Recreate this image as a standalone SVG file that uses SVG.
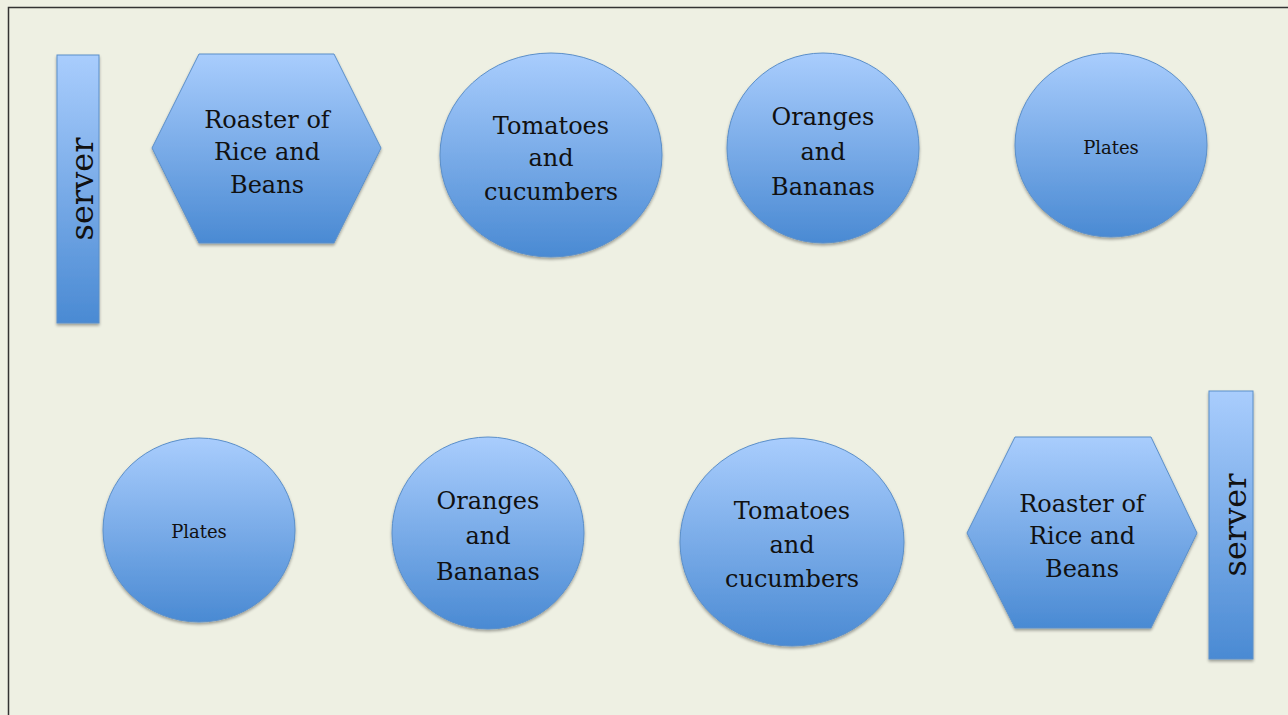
<svg xmlns="http://www.w3.org/2000/svg" width="1288" height="715" viewBox="0 0 1288 715">
<defs>
<linearGradient id="g" x1="0" y1="0" x2="0" y2="1">
<stop offset="0" stop-color="#a9cdfd"/>
<stop offset="1" stop-color="#4a8ad3"/>
</linearGradient>
<filter id="sh" x="-10%" y="-10%" width="120%" height="125%">
<feGaussianBlur in="SourceAlpha" stdDeviation="1.5"/>
<feOffset dx="0" dy="2" result="b"/>
<feComponentTransfer><feFuncA type="linear" slope="0.35"/></feComponentTransfer>
<feMerge><feMergeNode/><feMergeNode in="SourceGraphic"/></feMerge>
</filter>
</defs>
<style>
.s{fill:url(#g);stroke:#5b8fc9;stroke-width:1;filter:url(#sh)}
.t{font-family:"DejaVu Serif","Liberation Serif",serif;font-size:24px;fill:#111;text-anchor:middle}
.p{font-size:18px}
.v{font-size:32px}
</style>
<rect x="0" y="0" width="1288" height="715" fill="#eef0e3"/>
<path d="M8.5 715V7.5H1288" fill="none" stroke="#333" stroke-width="1.5"/>
<g id="connectors"/>
<g id="server1">
<rect class="s" x="57" y="55" width="42" height="268"/>
<text class="t v" transform="translate(93,189) rotate(-90)">server</text>
</g>
<g id="roaster1">
<polygon class="s" points="152,148 199,54 334,54 381,148 334,243 199,243"/>
<text class="t" x="267" y="128">Roaster of</text>
<text class="t" x="267" y="160">Rice and</text>
<text class="t" x="267" y="193">Beans</text>
</g>
<g id="tomatoes1">
<ellipse class="s" cx="551" cy="155" rx="111" ry="102"/>
<text class="t" x="551" y="134">Tomatoes</text>
<text class="t" x="551" y="166">and</text>
<text class="t" x="551" y="200">cucumbers</text>
</g>
<g id="oranges1">
<ellipse class="s" cx="823" cy="148" rx="96" ry="95"/>
<text class="t" x="823" y="125">Oranges</text>
<text class="t" x="823" y="160">and</text>
<text class="t" x="823" y="195">Bananas</text>
</g>
<g id="plates1">
<ellipse class="s" cx="1111" cy="145" rx="96" ry="92"/>
<text class="t p" x="1111" y="154">Plates</text>
</g>
<g id="plates2">
<ellipse class="s" cx="199" cy="530" rx="96" ry="92"/>
<text class="t p" x="199" y="538">Plates</text>
</g>
<g id="oranges2">
<ellipse class="s" cx="488" cy="533" rx="96" ry="96"/>
<text class="t" x="488" y="509">Oranges</text>
<text class="t" x="488" y="544">and</text>
<text class="t" x="488" y="580">Bananas</text>
</g>
<g id="tomatoes2">
<ellipse class="s" cx="792" cy="542" rx="112" ry="104"/>
<text class="t" x="792" y="519">Tomatoes</text>
<text class="t" x="792" y="553">and</text>
<text class="t" x="792" y="587">cucumbers</text>
</g>
<g id="roaster2">
<polygon class="s" points="967,533 1015,437 1151,437 1197,533 1151,628 1015,628"/>
<text class="t" x="1082" y="512">Roaster of</text>
<text class="t" x="1082" y="544">Rice and</text>
<text class="t" x="1082" y="577">Beans</text>
</g>
<g id="server2">
<rect class="s" x="1209" y="391" width="44" height="268"/>
<text class="t v" transform="translate(1246,525) rotate(-90)">server</text>
</g>
</svg>
